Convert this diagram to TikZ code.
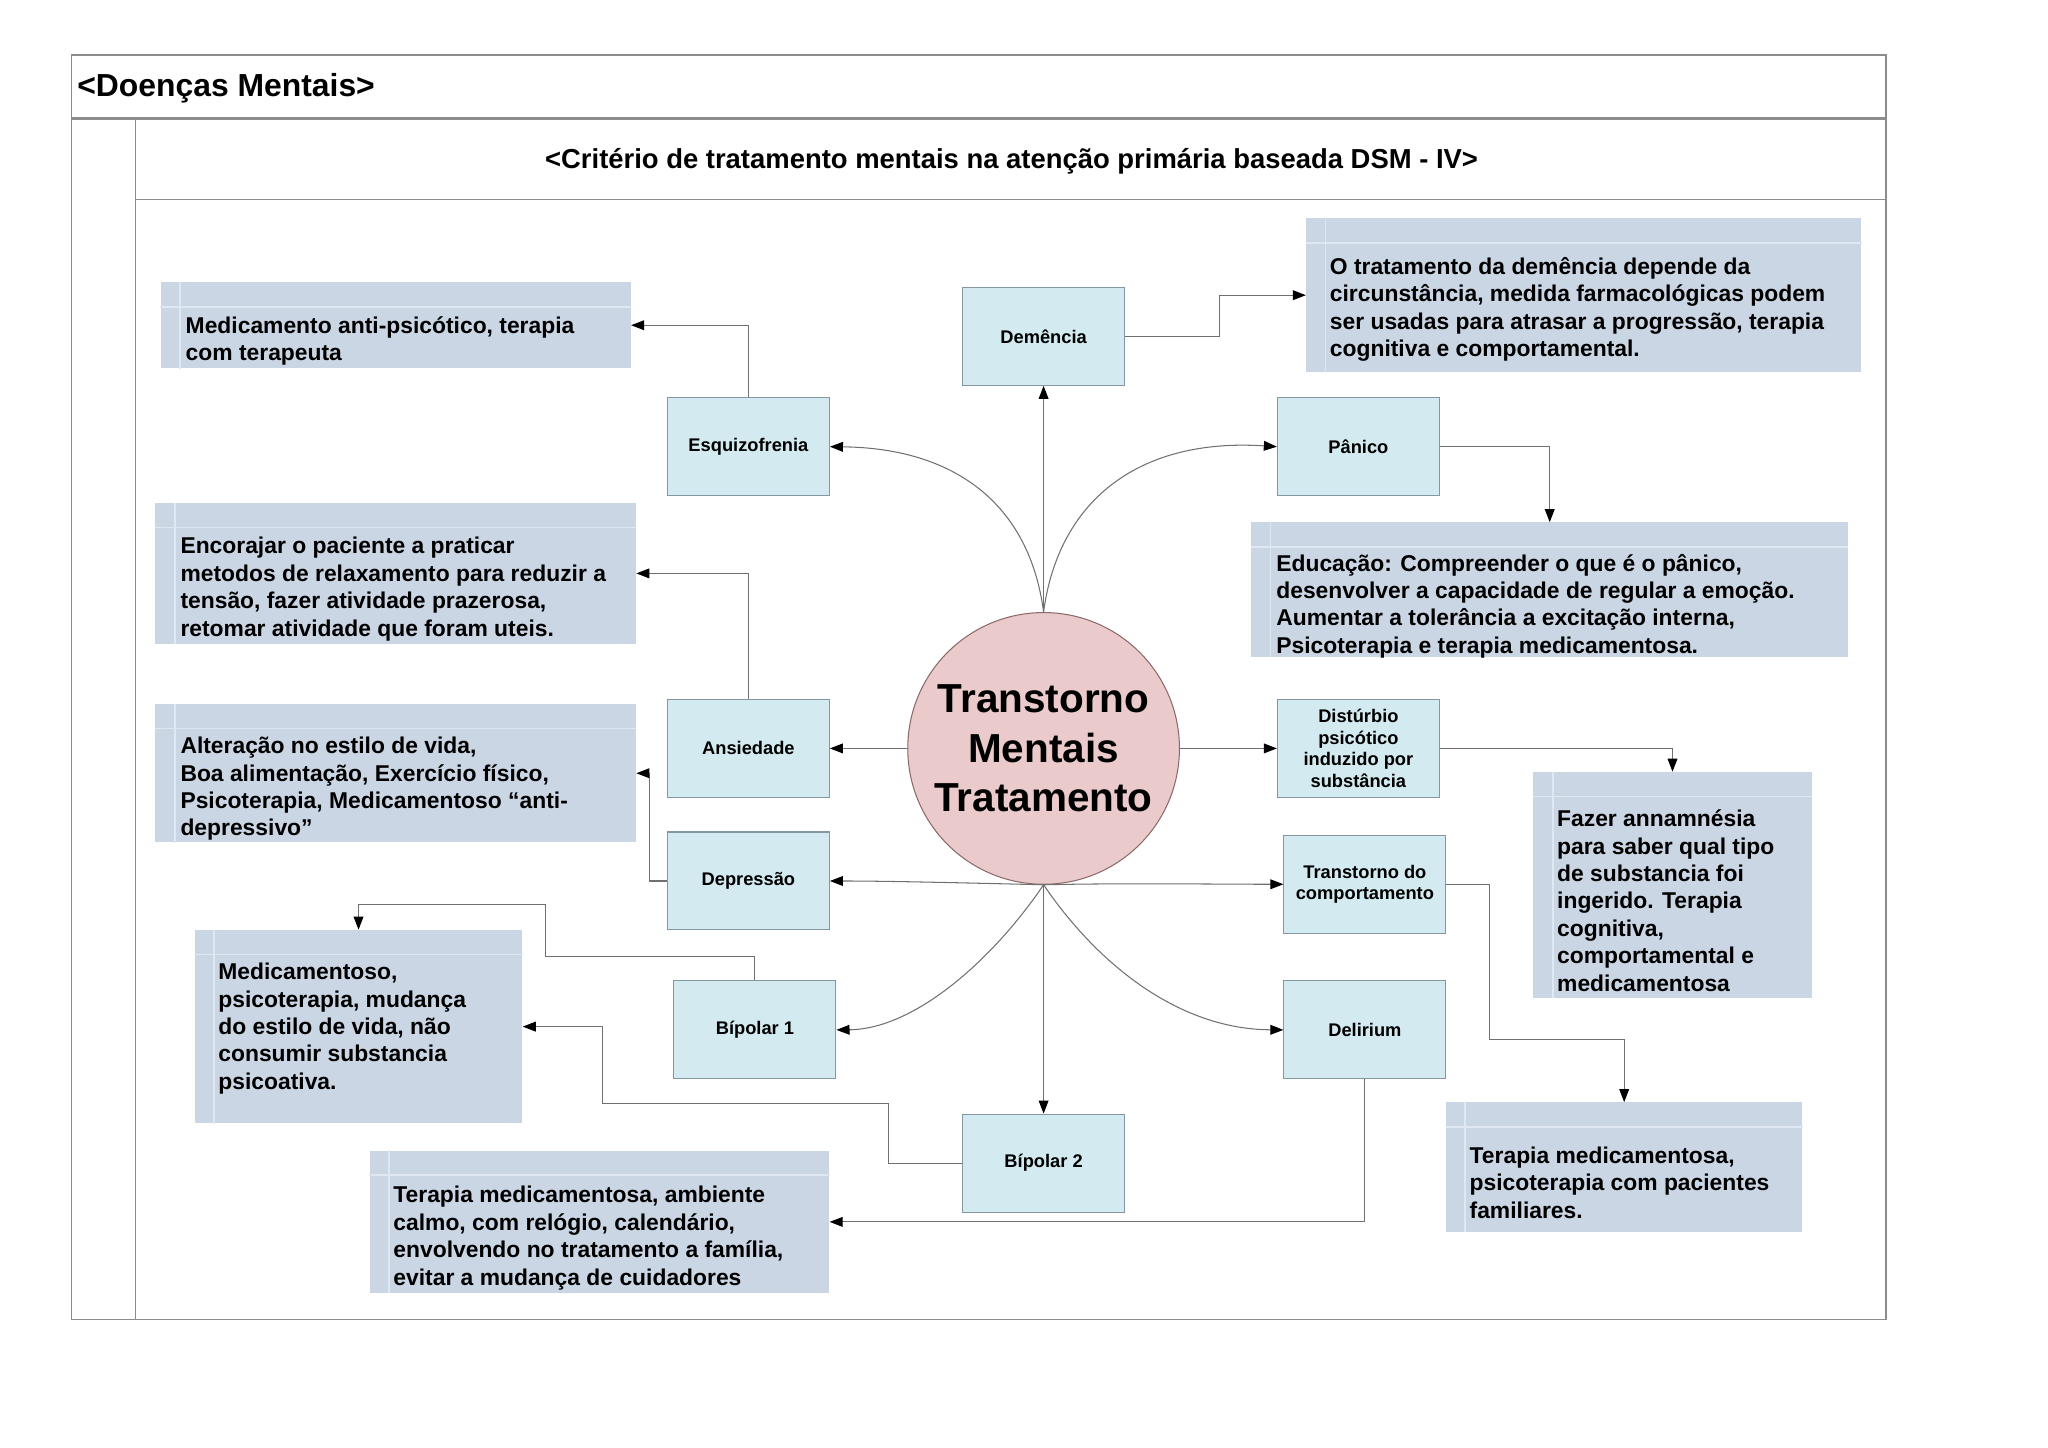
\documentclass[tikz,border=0pt]{standalone}
\usepackage{fontspec}
\setmainfont{Liberation Sans}
\usetikzlibrary{arrows.meta}
\definecolor{boxblue}{HTML}{CBD6E4}
\definecolor{stripecol}{HTML}{DFE7F1}
\definecolor{nodecyan}{HTML}{D3EBF0}
\definecolor{nodeedge}{HTML}{8497A5}
\definecolor{ellfill}{HTML}{EACACA}
\definecolor{elledge}{HTML}{8C6A6A}
\definecolor{linkgray}{HTML}{707070}
\definecolor{framegray}{HTML}{8C8C8C}
\newcommand\boxstripes[1]{%
  \draw[stripecol, line width=1.3pt] ([yshift=-19pt]#1.north west) -- ([yshift=-19pt]#1.north east);
  \draw[stripecol, line width=1.3pt] ([xshift=15pt]#1.north west) -- ([xshift=15pt]#1.south west);}
\begin{document}
\begin{tikzpicture}[x=1pt,y=-1pt,
  link/.style={draw=linkgray, line width=0.8pt, -{Triangle[length=10pt,width=7.5pt,fill=black,color=black]}},
  infobox/.style={rectangle, fill=boxblue, draw=none, inner sep=0pt},
  boxtext/.style={anchor=west, align=left, inner sep=0pt, font=\fontsize{17.5}{21}\selectfont\bfseries},
  dnode/.style={rectangle, fill=nodecyan, draw=nodeedge, line width=0.8pt, minimum width=124pt, minimum height=75pt, inner sep=1pt, align=center, font=\fontsize{14}{16.7}\selectfont\bfseries},
  framel/.style={draw=framegray, line width=1pt}]
\fill[white] (0,0) rectangle (1568,1108.6);
\useasboundingbox (0,0) rectangle (1568,1108.6);
% frame
\draw[framel] (55,42) rectangle (1444,1010);
\draw[framegray, line width=2.2pt] (55,91) -- (1444,91);
\draw[framel] (104,91) -- (104,1010);
\draw[framel] (104,153) -- (1444,153);
\node[anchor=west, inner sep=0pt, font=\fontsize{24.4}{28}\selectfont\bfseries] (title) at (59,67.5) {<Doenças Mentais>};
\node[inner sep=0pt, font=\fontsize{21}{25}\selectfont\bfseries] (sub) at (774.5,123.5) {<Critério de tratamento mentais na atenção primária baseada DSM - IV>};
% info boxes
\node[infobox, minimum width=360pt, minimum height=66pt] (b1) at (303,249) {};
\node[infobox, minimum width=425pt, minimum height=118pt] (b2) at (1212.5,226) {};
\node[infobox, minimum width=368pt, minimum height=108pt] (b3) at (303,439) {};
\node[infobox, minimum width=457pt, minimum height=103pt] (b4) at (1186.5,451.5) {};
\node[infobox, minimum width=368pt, minimum height=106pt] (b5) at (303,592) {};
\node[infobox, minimum width=213pt, minimum height=173pt] (b6) at (1280.5,677.5) {};
\node[infobox, minimum width=251pt, minimum height=148pt] (b7) at (274.5,786) {};
\node[infobox, minimum width=273pt, minimum height=99pt] (b8) at (1243.5,893.5) {};
\node[infobox, minimum width=352pt, minimum height=109pt] (b9) at (459,935.5) {};
\boxstripes{b1}\boxstripes{b2}\boxstripes{b3}\boxstripes{b4}\boxstripes{b5}
\boxstripes{b6}\boxstripes{b7}\boxstripes{b8}\boxstripes{b9}
\node[boxtext] (t1) at (142,261) {Medicamento anti-psicótico, terapia\\com terapeuta};
\node[boxtext] (t2) at (1018,237) {O tratamento da demência depende da\\circunstância, medida farmacológicas podem\\ser usadas para atrasar a progressão, terapia\\cognitiva e comportamental.};
\node[boxtext] (t3) at (138,451) {Encorajar o paciente a praticar\\metodos de relaxamento para reduzir a\\tensão, fazer atividade prazerosa,\\retomar atividade que foram uteis.};
\node[boxtext] (t4) at (977,464) {Educação: Compreender o que é o pânico,\\desenvolver a capacidade de regular a emoção.\\Aumentar a tolerância a excitação interna,\\Psicoterapia e terapia medicamentosa.};
\node[boxtext] (t5) at (138,604) {Alteração no estilo de vida,\\Boa alimentação, Exercício físico,\\Psicoterapia, Medicamentoso “anti-\\depressivo”};
\node[boxtext] (t6) at (1192,689.5) {Fazer annamnésia\\para saber qual tipo\\de substancia foi\\ingerido. Terapia\\cognitiva,\\comportamental e\\medicamentosa};
\node[boxtext] (t7) at (167,787.5) {Medicamentoso,\\psicoterapia, mudança\\do estilo de vida, não\\consumir substancia\\psicoativa.};
\node[boxtext] (t8) at (1125,905.5) {Terapia medicamentosa,\\psicoterapia com pacientes\\familiares.};
\node[boxtext] (t9) at (301,948) {Terapia medicamentosa, ambiente\\calmo, com relógio, calendário,\\envolvendo no tratamento a família,\\evitar a mudança de cuidadores};
% disorder nodes
\node[dnode] (dem) at (799,257.5) {Demência};
\node[dnode] (esq) at (573,342) {Esquizofrenia};
\node[dnode] (pan) at (1040,342) {Pânico};
\node[dnode] (ans) at (573,573) {Ansiedade};
\node[dnode] (dis) at (1040,573) {Distúrbio\\psicótico\\induzido por\\substância};
\node[dnode] (dep) at (573,674.5) {Depressão};
\node[dnode] (tc) at (1045,677) {Transtorno do\\comportamento};
\node[dnode] (bp1) at (578,788.5) {Bípolar 1};
\node[dnode] (del) at (1045,788.5) {Delirium};
\node[dnode] (bp2) at (799,890.5) {Bípolar 2};
% center
\node[circle, fill=ellfill, draw=elledge, line width=0.8pt, minimum size=208pt, inner sep=0pt, align=center, font=\fontsize{31}{38}\selectfont\bfseries] (c) at (799,573) {Transtorno\\Mentais\\Tratamento};
% center connectors
\draw[link] (c.north) -- (dem.south);
\draw[link] (c.north) .. controls (788,385) and (730,343) .. (esq.east);
\draw[link] (c.north) .. controls (810,385) and (870,335) .. (pan.west);
\draw[link] (c.west) -- (ans.east);
\draw[link] (c.east) -- (dis.west);
\draw[link] (c.south) .. controls (740,676) and (680,674.5) .. (dep.east);
\draw[link] (c.south) .. controls (860,676) and (930,677) .. (tc.west);
\draw[link] (c.south) .. controls (760,735) and (700,788) .. (bp1.east);
\draw[link] (c.south) .. controls (838,735) and (900,788) .. (del.west);
\draw[link] (c.south) -- (bp2.north);
% elbow connectors
\draw[link] (esq.north) |- (b1.east);
\draw[link] (dem.east) -- ++(72,0) |- (b2.west);
\draw[link] (pan.east) -| (b4.north);
\draw[link] (ans.north) |- (b3.east);
\draw[link] (dep.west) -- ++(-13,0) |- (b5.east);
\draw[link] (dis.east) -| (b6.north);
\draw[link] (bp1.north) -- ++(0,-18) -- ++(-160,0) -- ++(0,-40) -| (b7.north);
\draw[link] (bp2.west) -- ++(-56,0) -- ++(0,-46) -- ++(-219,0) |- (b7.east);
\draw[link] (tc.east) -- ++(33,0) -- ++(0,119) -| (b8.north);
\draw[link] (del.south) |- (b9.east);
\end{tikzpicture}
\end{document}
